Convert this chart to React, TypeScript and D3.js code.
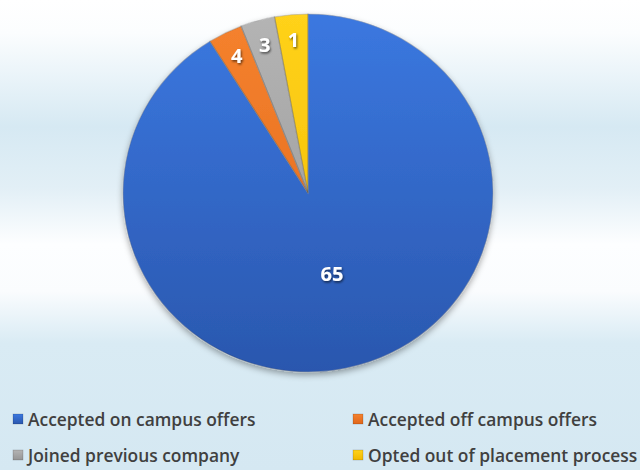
import React from "react";
import * as d3 from "d3";

const categories = [
  "Accepted on campus offers",
  "Accepted off campus offers",
  "Joined previous company",
  "Opted out of placement process",
];
// printed data labels
const labelValues = [65, 4, 3, 1];
// share of the circle each slice covers (%)
const sliceShares = [91.2, 3.0, 3.0, 2.9];

const colorsTop = ["#3b78e0", "#f5822e", "#b4b4b4", "#ffd21a"];
const colorsBottom = ["#2a57ae", "#e0661a", "#959595", "#f0b800"];

const W = 640;
const H = 470;
const cx = 308;
const cy = 193;
const ry = 179;
const sx = 185 / 179;

export default function App() {
  const pie = d3.pie<number>().sort(null).value((d) => d)(sliceShares);
  const arc = d3.arc<d3.PieArcDatum<number>>().innerRadius(0).outerRadius(ry);
  const labelArc = d3
    .arc<d3.PieArcDatum<number>>()
    .innerRadius(ry * 0.86)
    .outerRadius(ry * 0.86);
  const bigLabelArc = d3
    .arc<d3.PieArcDatum<number>>()
    .innerRadius(ry * 0.47)
    .outerRadius(ry * 0.47);

  const legendX = d3.scaleOrdinal<number, number>().domain([0, 1]).range([13, 353]);
  const legendY = d3.scaleOrdinal<number, number>().domain([0, 1]).range([419, 455]);

  return (
    <svg
      width={W}
      height={H}
      style={{ position: "absolute", left: 0, top: 0 }}
      fontFamily="'Open Sans', Lato, sans-serif"
    >
      <defs>
        <linearGradient id="bg" x1="0" y1="0" x2="0" y2="1">
          <stop offset="0" stopColor="#ffffff" />
          <stop offset="0.07" stopColor="#fbfdfe" />
          <stop offset="0.27" stopColor="#d6e9f3" />
          <stop offset="0.4" stopColor="#e2eff6" />
          <stop offset="0.52" stopColor="#fdfeff" />
          <stop offset="0.62" stopColor="#fafcfe" />
          <stop offset="0.73" stopColor="#d9ebf4" />
          <stop offset="1" stopColor="#d5e8f2" />
        </linearGradient>
        {colorsTop.map((c, i) => (
          <linearGradient
            key={i}
            id={`g${i}`}
            gradientUnits="userSpaceOnUse"
            x1="0"
            y1={-ry}
            x2="0"
            y2={ry}
          >
            <stop offset="0" stopColor={c} />
            <stop offset="1" stopColor={colorsBottom[i]} />
          </linearGradient>
        ))}
        {colorsTop.map((c, i) => (
          <linearGradient key={`l${i}`} id={`lg${i}`} x1="0" y1="0" x2="0" y2="1">
            <stop offset="0" stopColor={c} />
            <stop offset="1" stopColor={colorsBottom[i]} />
          </linearGradient>
        ))}
        <filter id="shadow" x="-20%" y="-20%" width="140%" height="140%">
          <feDropShadow dx="0" dy="3" stdDeviation="3" floodColor="#000" floodOpacity="0.35" />
        </filter>
        <filter id="tshadow" x="-30%" y="-30%" width="160%" height="160%">
          <feDropShadow dx="1" dy="1.5" stdDeviation="1" floodColor="#000" floodOpacity="0.6" />
        </filter>
      </defs>
      <rect x={0} y={0} width={W} height={H} fill="url(#bg)" />
      <g transform={`translate(${cx},${cy}) scale(${sx},1)`}>
        <g filter="url(#shadow)">
          {pie.map((p, i) => (
            <path
              key={i}
              d={arc(p) || ""}
              fill={`url(#g${i})`}
              stroke="rgba(255,255,255,0.35)"
              strokeWidth={1}
            />
          ))}
        </g>
        {pie.map((p, i) => (
          <path
            key={`e${i}`}
            d={arc(p) || ""}
            fill="none"
            stroke="rgba(0,0,0,0.18)"
            strokeWidth={1.2}
          />
        ))}
      </g>
      <g transform={`translate(${cx},${cy})`}>
        {pie.map((p, i) => {
          const [x, y] = i === 0 ? bigLabelArc.centroid(p) : labelArc.centroid(p);
          return (
            <text
              key={i}
              x={x * sx}
              y={y}
              textAnchor="middle"
              dominantBaseline="central"
              fill="#ffffff"
              fontWeight="bold"
              fontSize={20}
              filter="url(#tshadow)"
            >
              {labelValues[i]}
            </text>
          );
        })}
      </g>
      <g>
        {categories.map((c, i) => {
          const x = legendX(i % 2);
          const y = legendY(Math.floor(i / 2));
          return (
            <g key={c}>
              <rect
                x={x}
                y={y - 5}
                width={10}
                height={10}
                fill={`url(#lg${i})`}
                stroke="rgba(0,0,0,0.25)"
                strokeWidth={0.6}
              />
              <text
                x={x + 15}
                y={y}
                dominantBaseline="central"
                fill="#404040"
                fontWeight={600}
                fontSize={17.4}
              >
                {c}
              </text>
            </g>
          );
        })}
      </g>
    </svg>
  );
}
